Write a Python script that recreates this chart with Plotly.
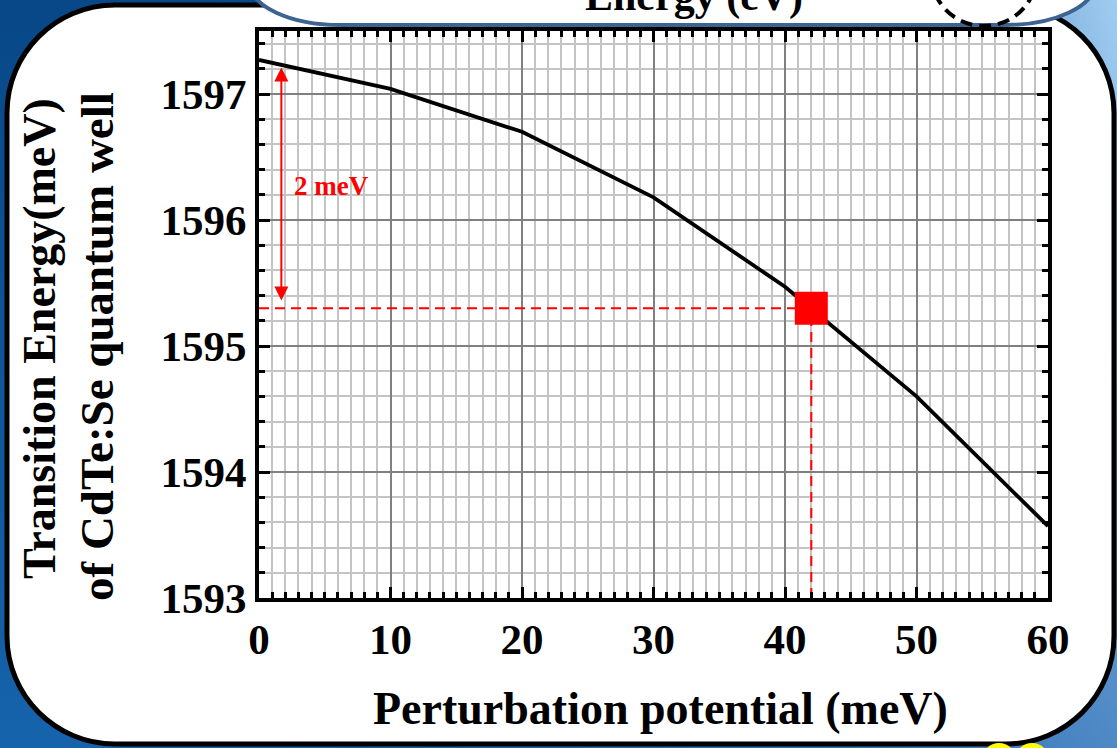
import base64, struct, zlib
import numpy as np
import plotly.graph_objects as go

# ---------------- data ----------------
perturbation_mev = [0, 10, 20, 30, 40, 50, 60]
transition_mev = [1597.27, 1597.04, 1596.70, 1596.18, 1595.47, 1594.60, 1593.57]

marker_x = [42]
marker_y = [1595.30]
arrow_x = 1.7
arrow_bottom = 1595.35
arrow_top = 1597.21
arrow_label = "2 meV"
label_x = 5.5
label_y = 1596.27

x_range = [0, 60]
y_range = [1593, 1597.5]
y_ticks = [1593, 1594, 1595, 1596, 1597]
x_ticks = [0, 10, 20, 30, 40, 50, 60]

x_title = "Perturbation potential (meV)"
y_title_1 = "Transition Energy(meV)"
y_title_2 = "of CdTe:Se quantum well"
top_text = "Energy (eV)"

# ---------------- geometry helpers ----------------
W, H = 1117, 748
PL, PR, PT, PB = 259, 1048, 31, 598


def px(X):
    return (X - PL) / (PR - PL)


def py(Y):
    return (PB - Y) / (PB - PT)


def rrect(x0, y0, x1, y1, rx, ry):
    k = 0.5523
    pts = []
    pts.append(f"M {px(x0+rx)},{py(y0)}")
    pts.append(f"L {px(x1-rx)},{py(y0)}")
    pts.append(f"C {px(x1-rx+k*rx)},{py(y0)} {px(x1)},{py(y0+ry-k*ry)} {px(x1)},{py(y0+ry)}")
    pts.append(f"L {px(x1)},{py(y1-ry)}")
    pts.append(f"C {px(x1)},{py(y1-ry+k*ry)} {px(x1-rx+k*rx)},{py(y1)} {px(x1-rx)},{py(y1)}")
    pts.append(f"L {px(x0+rx)},{py(y1)}")
    pts.append(f"C {px(x0+rx-k*rx)},{py(y1)} {px(x0)},{py(y1-ry+k*ry)} {px(x0)},{py(y1-ry)}")
    pts.append(f"L {px(x0)},{py(y0+ry)}")
    pts.append(f"C {px(x0)},{py(y0+ry-k*ry)} {px(x0+rx-k*rx)},{py(y0)} {px(x0+rx)},{py(y0)}")
    pts.append("Z")
    return " ".join(pts)


# ---------------- gradient background image ----------------
def make_png(arr):
    h, w, _ = arr.shape
    raw = b"".join(b"\x00" + arr[i].tobytes() for i in range(h))

    def chunk(tag, data):
        c = struct.pack(">I", len(data)) + tag + data
        return c + struct.pack(">I", zlib.crc32(tag + data) & 0xFFFFFFFF)

    png = b"\x89PNG\r\n\x1a\n"
    png += chunk(b"IHDR", struct.pack(">IIBBBBB", w, h, 8, 2, 0, 0, 0))
    png += chunk(b"IDAT", zlib.compress(raw, 9))
    png += chunk(b"IEND", b"")
    return png


gw, gh = 224, 150
gx = np.linspace(0, 1, gw)[None, :, None]
gy = np.linspace(0, 1, gh)[:, None, None]
dark = np.array([8, 72, 136]) * (1 - gy) + np.array([22, 100, 172]) * gy
light = np.array([160, 205, 242]) * (1 - gy) + np.array([80, 138, 198]) * gy
wx = gx ** 3
img = dark * (1 - wx) + light * wx
img = np.clip(img, 0, 255).astype(np.uint8)
bg_src = "data:image/png;base64," + base64.b64encode(make_png(img)).decode()

# ---------------- figure ----------------
fig = go.Figure()

fig.add_trace(go.Scatter(
    x=[0, marker_x[0]], y=[marker_y[0], marker_y[0]], mode="lines",
    line=dict(color="red", width=2, dash="10px,6px"), hoverinfo="skip", cliponaxis=False))
fig.add_trace(go.Scatter(
    x=[marker_x[0], marker_x[0]], y=[y_range[0], marker_y[0]], mode="lines",
    line=dict(color="red", width=2, dash="10px,6px"), hoverinfo="skip", cliponaxis=False))
fig.add_trace(go.Scatter(
    x=perturbation_mev, y=transition_mev, mode="lines",
    line=dict(color="black", width=3.8), cliponaxis=False))
fig.add_trace(go.Scatter(
    x=marker_x, y=marker_y, mode="markers",
    marker=dict(symbol="square", size=33, color="red", line=dict(width=0)), cliponaxis=False))

serif = "Liberation Serif, Times New Roman, serif"

shapes = [
    dict(type="path", xref="paper", yref="paper", layer="below",
         path=rrect(7, 5, 1114, 744, 108, 108),
         fillcolor="white", line=dict(color="black", width=5)),
    dict(type="path", xref="paper", yref="paper", layer="below",
         path=rrect(250, -120, 1095, 25, 90, 42),
         fillcolor="white", line=dict(color="#3d6391", width=4)),
    dict(type="circle", xref="paper", yref="paper", layer="below",
         x0=px(931), x1=px(1037), y0=py(-80), y1=py(26),
         fillcolor="rgba(0,0,0,0)", line=dict(color="black", width=4, dash="12px,7px")),
    dict(type="circle", xref="paper", yref="paper", layer="above",
         x0=px(982), x1=px(1016), y0=py(743), y1=py(777),
         fillcolor="#ffff00", line=dict(width=0)),
    dict(type="circle", xref="paper", yref="paper", layer="above",
         x0=px(1015), x1=px(1049), y0=py(743), y1=py(777),
         fillcolor="#ffff00", line=dict(width=0)),
]

annotations = [
    dict(x=arrow_x, y=arrow_top, ax=arrow_x, ay=arrow_bottom, xref="x", yref="y",
         axref="x", ayref="y", text="", showarrow=True, arrowside="end+start",
         arrowhead=2, arrowsize=1.4, arrowwidth=2, arrowcolor="red",
         standoff=0, startstandoff=0),
    dict(x=label_x, y=label_y, xref="x", yref="y", text=arrow_label, showarrow=False,
         font=dict(family=serif, size=27, color="red", weight="bold")),
    dict(x=px(660), y=py(708), xref="paper", yref="paper", text=x_title, showarrow=False,
         xanchor="center", yanchor="middle",
         font=dict(family=serif, size=46, color="black", weight="bold")),
    dict(x=px(39), y=py(339), xref="paper", yref="paper", text=y_title_1, showarrow=False,
         textangle=-90, xanchor="center", yanchor="middle",
         font=dict(family=serif, size=46, color="black", weight="bold")),
    dict(x=px(97), y=py(347), xref="paper", yref="paper", text=y_title_2, showarrow=False,
         textangle=-90, xanchor="center", yanchor="middle",
         font=dict(family=serif, size=47, color="black", weight="bold")),
    dict(x=px(694), y=py(-3), xref="paper", yref="paper", text=top_text, showarrow=False,
         xanchor="center", yanchor="middle",
         font=dict(family=serif, size=42, color="black", weight="bold")),
]

axis_common = dict(
    showline=True, linecolor="black", linewidth=4, mirror="allticks",
    ticks="inside", tickcolor="black", tickwidth=3, ticklen=11,
    showgrid=True, gridcolor="#808080", gridwidth=1.5, zeroline=False,
    tickfont=dict(family=serif, size=43, color="black", weight="bold"),
)

fig.update_layout(
    width=W, height=H,
    margin=dict(l=PL, r=W - PR, t=PT, b=H - PB, pad=0),
    paper_bgcolor="#0b4d8f", plot_bgcolor="white",
    showlegend=False,
    shapes=shapes,
    annotations=annotations,
    images=[dict(source=bg_src, xref="paper", yref="paper", x=px(0), y=py(0),
                 sizex=W / (PR - PL), sizey=H / (PB - PT), sizing="stretch",
                 xanchor="left", yanchor="top", layer="below")],
    xaxis=dict(range=x_range, tickvals=x_ticks, **axis_common,
               minor=dict(dtick=1, showgrid=True, gridcolor="#c4c4c4", gridwidth=2,
                          ticks="inside", ticklen=6, tickwidth=3, tickcolor="black")),
    yaxis=dict(range=y_range, tickvals=y_ticks, **axis_common,
               minor=dict(dtick=0.2, showgrid=True, gridcolor="#c4c4c4", gridwidth=2,
                          ticks="inside", ticklen=6, tickwidth=3, tickcolor="black")),
)

fig.write_html("out.html", config={"displayModeBar": False},
               post_script="document.body.style.margin='0';document.body.style.overflow='hidden';")
